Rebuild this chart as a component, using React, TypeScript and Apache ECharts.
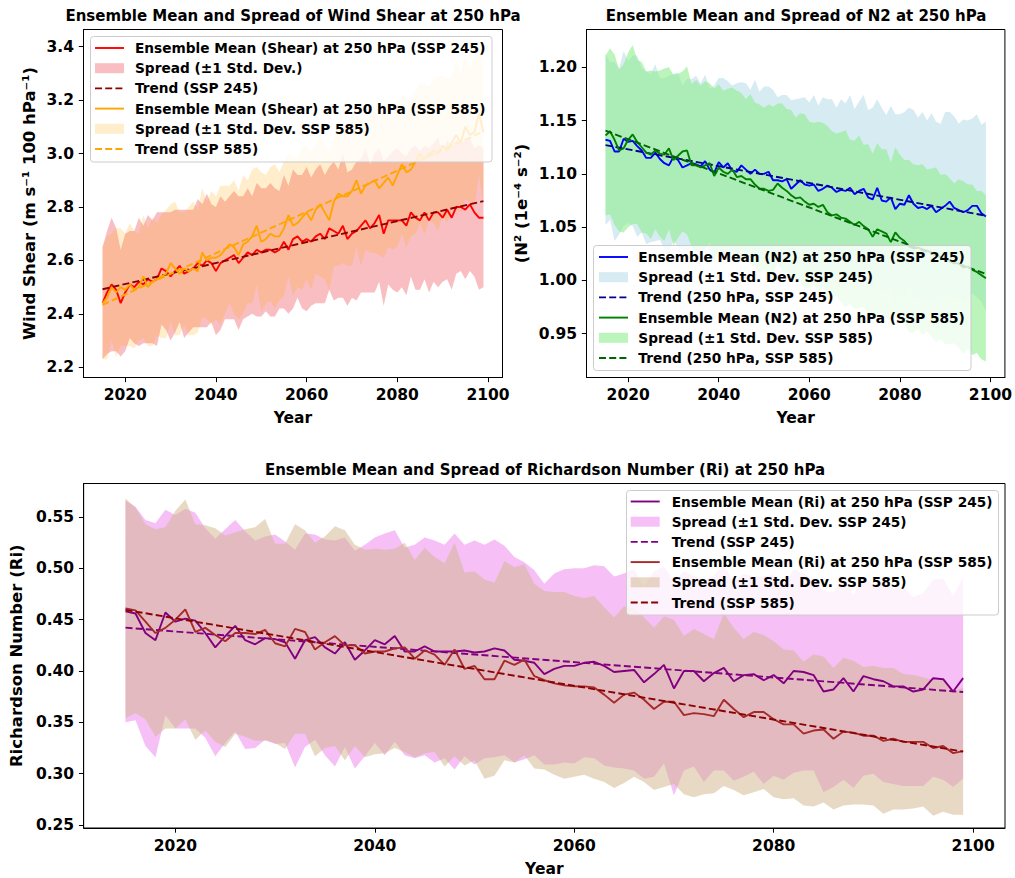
import React, { useEffect, useRef } from "react";
import * as echarts from "echarts";

// ---------------- DATA ----------------
const years: number[] = Array.from({ length: 85 }, (_, i) => 2015 + i);

const xTicks = [2020, 2040, 2060, 2080, 2100];
const shearTicks = [2.2, 2.4, 2.6, 2.8, 3.0, 3.2, 3.4];
const n2Ticks = [0.95, 1.0, 1.05, 1.1, 1.15, 1.2];
const riTicks = [0.25, 0.3, 0.35, 0.4, 0.45, 0.5, 0.55];

// Wind shear (m s-1 100 hPa-1)
const shearMean245 = [
  2.44, 2.48, 2.51, 2.49, 2.44, 2.48, 2.51, 2.5, 2.52, 2.51,
  2.53, 2.52, 2.53, 2.57, 2.56, 2.54, 2.56, 2.58, 2.55, 2.56,
  2.57, 2.59, 2.58, 2.6, 2.59, 2.56, 2.59, 2.6, 2.61, 2.62,
  2.59, 2.61, 2.63, 2.62, 2.64, 2.63, 2.64, 2.64, 2.63, 2.64,
  2.67, 2.64, 2.68, 2.69, 2.67, 2.68, 2.67, 2.69, 2.7, 2.68,
  2.72, 2.71, 2.7, 2.73, 2.68, 2.7, 2.71, 2.73, 2.75, 2.72,
  2.74, 2.77, 2.7, 2.75, 2.75, 2.75, 2.75, 2.73, 2.78, 2.76,
  2.75, 2.78, 2.75, 2.78, 2.78, 2.76, 2.79, 2.76, 2.8, 2.8,
  2.79, 2.81, 2.78, 2.76, 2.76,
];
const shearStd245 = [
  0.21, 0.23, 0.25, 0.23, 0.2, 0.22, 0.2, 0.21, 0.24, 0.22,
  0.24, 0.23, 0.25, 0.21, 0.22, 0.24, 0.23, 0.21, 0.24, 0.23,
  0.22, 0.24, 0.23, 0.25, 0.22, 0.24, 0.25, 0.22, 0.23, 0.24,
  0.25, 0.23, 0.24, 0.22, 0.25, 0.24, 0.23, 0.25, 0.24, 0.22,
  0.25, 0.24, 0.26, 0.23, 0.25, 0.27, 0.24, 0.25, 0.26, 0.24,
  0.23, 0.26, 0.24, 0.27, 0.25, 0.24, 0.26, 0.25, 0.27, 0.24,
  0.26, 0.25, 0.27, 0.24, 0.26, 0.27, 0.25, 0.26, 0.24, 0.27,
  0.26, 0.25, 0.27, 0.26, 0.28, 0.24, 0.26, 0.27, 0.25, 0.24,
  0.26, 0.25, 0.24, 0.27, 0.26,
];
const shearTrend245 = [2.492, 2.822];
const shearMean585 = [
  2.44, 2.46, 2.5, 2.48, 2.5, 2.49, 2.51, 2.49, 2.5, 2.54,
  2.5, 2.52, 2.53, 2.54, 2.55, 2.59, 2.57, 2.55, 2.57, 2.56,
  2.57, 2.56, 2.63, 2.6, 2.61, 2.61, 2.62, 2.64, 2.66, 2.65,
  2.62, 2.66, 2.67, 2.69, 2.73, 2.67, 2.68, 2.7, 2.69, 2.69,
  2.72, 2.77, 2.73, 2.74, 2.76, 2.78, 2.75, 2.79, 2.81, 2.78,
  2.75, 2.82, 2.85, 2.84, 2.84, 2.86, 2.9, 2.85, 2.88, 2.89,
  2.9, 2.87, 2.89, 2.91, 2.88, 2.92, 2.96, 2.93, 2.94, 2.97,
  3.0, 2.98, 3.0, 3.01, 3.0, 3.03, 3.01, 3.04, 3.07, 3.04,
  3.1, 3.07, 3.08, 3.15, 3.08,
];
const shearStd585 = [
  0.21, 0.23, 0.2, 0.24, 0.22, 0.21, 0.23, 0.22, 0.2, 0.23,
  0.22, 0.24, 0.21, 0.23, 0.24, 0.22, 0.25, 0.23, 0.21, 0.24,
  0.25, 0.23, 0.24, 0.22, 0.25, 0.23, 0.26, 0.24, 0.22, 0.25,
  0.24, 0.26, 0.23, 0.25, 0.22, 0.26, 0.24, 0.25, 0.27, 0.24,
  0.25, 0.23, 0.26, 0.24, 0.27, 0.25, 0.26, 0.24, 0.27, 0.25,
  0.26, 0.24, 0.27, 0.25, 0.26, 0.28, 0.25, 0.27, 0.24, 0.26,
  0.27, 0.25, 0.28, 0.26, 0.24, 0.27, 0.26, 0.28, 0.25, 0.27,
  0.26, 0.28, 0.25, 0.27, 0.29, 0.26, 0.27, 0.25, 0.28, 0.26,
  0.27, 0.25, 0.28, 0.23, 0.27,
];
const shearTrend585 = [2.434, 3.083];

// N2 (1e-4 s-2)
const n2Mean245 = [
  1.132, 1.131, 1.121, 1.121, 1.133, 1.13, 1.131, 1.126, 1.122, 1.115,
  1.115, 1.12, 1.114, 1.11, 1.108, 1.116, 1.113, 1.106, 1.108, 1.11,
  1.109, 1.107, 1.112, 1.104, 1.101, 1.111, 1.106, 1.11, 1.103, 1.102,
  1.108, 1.104, 1.1, 1.104, 1.1, 1.1, 1.102, 1.094, 1.094, 1.093,
  1.095, 1.086, 1.09, 1.094, 1.09, 1.089, 1.09, 1.084, 1.086, 1.089,
  1.087, 1.083, 1.085, 1.084, 1.087, 1.081, 1.084, 1.086, 1.078, 1.076,
  1.087, 1.075, 1.074, 1.078, 1.067, 1.072, 1.071, 1.08, 1.072, 1.068,
  1.069, 1.067, 1.07, 1.064, 1.067, 1.07, 1.074, 1.068, 1.066, 1.064,
  1.066, 1.07, 1.07, 1.063, 1.06,
];
const n2Std245 = [
  0.08, 0.074, 0.084, 0.078, 0.082, 0.076, 0.08, 0.085, 0.077, 0.081,
  0.079, 0.083, 0.076, 0.08, 0.084, 0.078, 0.082, 0.077, 0.081, 0.079,
  0.083, 0.078, 0.081, 0.076, 0.082, 0.079, 0.084, 0.077, 0.08, 0.083,
  0.078, 0.081, 0.079, 0.084, 0.077, 0.082, 0.08, 0.085, 0.078, 0.081,
  0.079, 0.083, 0.08, 0.077, 0.082, 0.078, 0.084, 0.08, 0.086, 0.081,
  0.083, 0.079, 0.085, 0.082, 0.087, 0.08, 0.084, 0.088, 0.082, 0.086,
  0.083, 0.087, 0.081, 0.086, 0.089, 0.084, 0.087, 0.082, 0.088, 0.085,
  0.089, 0.083, 0.087, 0.085, 0.08, 0.088, 0.084, 0.086, 0.081, 0.087,
  0.084, 0.082, 0.086, 0.083, 0.089,
];
const n2Trend245 = [1.127, 1.0607];
const n2Mean585 = [
  1.136, 1.14, 1.132, 1.122, 1.124, 1.132, 1.137, 1.13, 1.125, 1.12,
  1.118, 1.122, 1.119, 1.118, 1.124, 1.113, 1.117, 1.121, 1.122, 1.108,
  1.108, 1.106, 1.108, 1.11, 1.098, 1.106, 1.102, 1.1, 1.104, 1.097,
  1.098, 1.095, 1.095, 1.09, 1.086, 1.086, 1.084, 1.085, 1.091, 1.087,
  1.084, 1.08, 1.077, 1.078, 1.074, 1.071, 1.072, 1.069, 1.071, 1.064,
  1.061, 1.062, 1.059, 1.058, 1.055, 1.052, 1.055, 1.051, 1.048, 1.041,
  1.048, 1.046, 1.044, 1.036, 1.045, 1.04, 1.037, 1.032, 1.03, 1.031,
  1.029, 1.028, 1.026, 1.024, 1.022, 1.02, 1.018, 1.016, 1.016, 1.012,
  1.013, 1.01, 1.008, 1.005, 1.002,
];
const n2Std585 = [
  0.075, 0.078, 0.08, 0.076, 0.079, 0.082, 0.084, 0.077, 0.08, 0.076,
  0.079, 0.074, 0.078, 0.081, 0.076, 0.08, 0.077, 0.075, 0.079, 0.076,
  0.08, 0.077, 0.079, 0.075, 0.082, 0.078, 0.076, 0.08, 0.077, 0.081,
  0.078, 0.075, 0.08, 0.077, 0.079, 0.076, 0.081, 0.078, 0.075, 0.079,
  0.077, 0.08, 0.076, 0.079, 0.082, 0.078, 0.076, 0.08, 0.077, 0.081,
  0.079, 0.076, 0.08, 0.083, 0.077, 0.079, 0.081, 0.076, 0.08, 0.078,
  0.081, 0.077, 0.079, 0.075, 0.08, 0.078, 0.076, 0.081, 0.079, 0.077,
  0.08, 0.076, 0.079, 0.082, 0.077, 0.08, 0.078, 0.075, 0.079, 0.081,
  0.077, 0.08, 0.076, 0.079, 0.078,
];
const n2Trend585 = [1.1405, 1.006];

// Richardson number
const riMean245 = [
  0.458, 0.456, 0.437, 0.43, 0.457, 0.448, 0.451, 0.449, 0.437, 0.423,
  0.434, 0.444, 0.43, 0.426, 0.432, 0.431, 0.428, 0.412, 0.43, 0.433,
  0.423, 0.417, 0.428, 0.411, 0.42, 0.43, 0.426, 0.434, 0.419, 0.419,
  0.424, 0.419, 0.419, 0.419, 0.42, 0.418, 0.419, 0.422, 0.42, 0.411,
  0.41, 0.408, 0.397, 0.402, 0.405, 0.405, 0.408, 0.409, 0.405, 0.399,
  0.4, 0.401, 0.389, 0.397, 0.406, 0.383, 0.4, 0.4, 0.39, 0.398,
  0.403, 0.39, 0.396, 0.397, 0.391, 0.396, 0.388, 0.4, 0.399, 0.396,
  0.38, 0.382, 0.393, 0.38, 0.395, 0.392, 0.39, 0.385, 0.385, 0.38,
  0.382, 0.393, 0.392, 0.38, 0.393,
];
const riStd245 = [
  0.108, 0.104, 0.11, 0.114, 0.1, 0.104, 0.107, 0.105, 0.102, 0.106,
  0.104, 0.103, 0.106, 0.101, 0.099, 0.102, 0.098, 0.106, 0.104, 0.1,
  0.105, 0.11, 0.102, 0.106, 0.103, 0.1, 0.108, 0.103, 0.101, 0.104,
  0.106, 0.108, 0.104, 0.115, 0.103, 0.109, 0.104, 0.106, 0.102, 0.1,
  0.096, 0.09, 0.088, 0.093, 0.094, 0.095, 0.092, 0.094, 0.097, 0.093,
  0.095, 0.098, 0.094, 0.1, 0.096, 0.104, 0.097, 0.093, 0.098, 0.095,
  0.1, 0.097, 0.099, 0.095, 0.101, 0.098, 0.094, 0.099, 0.096, 0.093,
  0.098, 0.095, 0.099, 0.094, 0.097, 0.092, 0.098, 0.095, 0.097, 0.092,
  0.094, 0.096, 0.098, 0.093, 0.098,
];
const riTrend245 = [0.4422, 0.3795];
const riMean585 = [
  0.461, 0.459, 0.448, 0.437, 0.442, 0.45, 0.46, 0.438, 0.442, 0.435,
  0.429, 0.437, 0.437, 0.436, 0.44, 0.427, 0.424, 0.441, 0.438, 0.421,
  0.428, 0.434, 0.425, 0.425, 0.417, 0.419, 0.419, 0.422, 0.423, 0.412,
  0.42, 0.416, 0.406, 0.421, 0.402, 0.405, 0.392, 0.392, 0.41, 0.406,
  0.411, 0.395, 0.391, 0.388, 0.386, 0.385, 0.385, 0.384, 0.377, 0.369,
  0.377, 0.379, 0.372, 0.363, 0.37, 0.37, 0.357, 0.359, 0.358, 0.356,
  0.372, 0.363, 0.355, 0.36, 0.36, 0.353, 0.348, 0.348, 0.339, 0.342,
  0.343, 0.334, 0.341, 0.34, 0.337, 0.337, 0.332, 0.334, 0.331, 0.331,
  0.331, 0.325, 0.327, 0.32, 0.322,
];
const riStd585 = [
  0.107, 0.1, 0.095, 0.101, 0.098, 0.106, 0.107, 0.105, 0.1, 0.104,
  0.103, 0.098, 0.101, 0.104, 0.108, 0.097, 0.1, 0.102, 0.099, 0.104,
  0.103, 0.107, 0.112, 0.098, 0.101, 0.1, 0.099, 0.097, 0.102, 0.096,
  0.1, 0.095, 0.099, 0.104, 0.094, 0.092, 0.097, 0.094, 0.097, 0.095,
  0.093, 0.09, 0.087, 0.089, 0.091, 0.088, 0.086, 0.089, 0.085, 0.083,
  0.086, 0.082, 0.08, 0.079, 0.083, 0.08, 0.077, 0.082, 0.078, 0.075,
  0.084, 0.079, 0.076, 0.078, 0.075, 0.076, 0.073, 0.072, 0.07, 0.074,
  0.071, 0.069, 0.072, 0.07, 0.067, 0.068, 0.071, 0.069, 0.066, 0.065,
  0.063, 0.066, 0.064, 0.06, 0.062,
];
const riTrend585 = [0.4595, 0.3215];

// Texts
const titles = [
  "Ensemble Mean and Spread of Wind Shear at 250 hPa",
  "Ensemble Mean and Spread of N2 at 250 hPa",
  "Ensemble Mean and Spread of Richardson Number (Ri) at 250 hPa",
];
const yNames = ["Wind Shear (m s\u207B\u00B9 100 hPa\u207B\u00B9)", "(N\u00B2 (1e\u207B\u2074 s\u207B\u00B2)", "Richardson Number (Ri)"];
const shearLabels = [
  "Ensemble Mean (Shear) at 250 hPa (SSP 245)",
  "Spread (\u00B11 Std. Dev.)",
  "Trend (SSP 245)",
  "Ensemble Mean (Shear) at 250 hPa (SSP 585)",
  "Spread (\u00B11 Std. Dev. SSP 585)",
  "Trend (SSP 585)",
];
const n2Labels = [
  "Ensemble Mean (N2) at 250 hPa (SSP 245)",
  "Spread (\u00B11 Std. Dev. SSP 245)",
  "Trend (250 hPa, SSP 245)",
  "Ensemble Mean (N2) at 250 hPa (SSP 585)",
  "Spread (\u00B11 Std. Dev. SSP 585)",
  "Trend (250 hPa, SSP 585)",
];
const riLabels = [
  "Ensemble Mean (Ri) at 250 hPa (SSP 245)",
  "Spread (\u00B11 Std. Dev. SSP 245)",
  "Trend (SSP 245)",
  "Ensemble Mean (Ri) at 250 hPa (SSP 585)",
  "Spread (\u00B11 Std. Dev. SSP 585)",
  "Trend (SSP 585)",
];

// ---------------- STYLE / BUILD ----------------
const FONT = "DejaVu Sans";
const LW = 1.9;
const DASH = [7, 3.2];

const pairs = (vals: number[]) => years.map((y, i) => [y, vals[i]]);
const trendPairs = (t: number[]) => [[years[0], t[0]], [years[years.length - 1], t[1]]];

function band(name: string, mean: number[], std: number[], fill: string, gi: number) {
  return {
    type: "custom",
    name,
    xAxisIndex: gi,
    yAxisIndex: gi,
    coordinateSystem: "cartesian2d",
    z: 1,
    silent: true,
    data: [[years[0], mean[0]]],
    itemStyle: { color: fill },
    renderItem: (_p: any, api: any) => {
      const up = years.map((y, i) => api.coord([y, mean[i] + std[i]]));
      const lo = years.map((y, i) => api.coord([y, mean[i] - std[i]])).reverse();
      return { type: "polygon", shape: { points: up.concat(lo) }, style: { fill, stroke: "none" } };
    },
  };
}

function line(name: string, data: number[][], color: string, gi: number, dashed: boolean) {
  return {
    type: "line",
    name,
    xAxisIndex: gi,
    yAxisIndex: gi,
    z: 3,
    silent: true,
    symbol: "none",
    data,
    lineStyle: { color, width: LW, type: dashed ? DASH : "solid" },
    itemStyle: { color },
  };
}

const tickLabelStyle = { fontFamily: FONT, fontWeight: "bold", fontSize: 15.5, color: "#000" };

function xAxis(gi: number, gap: number) {
  return {
    type: "value",
    gridIndex: gi,
    min: 2010.8,
    max: 2103.2,
    name: "Year",
    nameLocation: "middle",
    nameGap: gap,
    nameTextStyle: { fontFamily: FONT, fontWeight: "bold", fontSize: 15.5, color: "#000" },
    axisLine: { show: true, onZero: false, lineStyle: { color: "#000", width: 1 } },
    axisTick: { show: true, length: 4.7, lineStyle: { color: "#000", width: 1 }, customValues: xTicks },
    axisLabel: { ...tickLabelStyle, margin: 9.5, customValues: xTicks, formatter: (v: number) => String(Math.round(v)) },
    splitLine: { show: false },
  };
}

function yAxis(gi: number, min: number, max: number, ticks: number[], dec: number, name: string, gap: number, nameSize: number) {
  return {
    type: "value",
    gridIndex: gi,
    min,
    max,
    name,
    nameLocation: "middle",
    nameGap: gap,
    nameTextStyle: { fontFamily: FONT, fontWeight: "bold", fontSize: nameSize, color: "#000" },
    axisLine: { show: true, onZero: false, lineStyle: { color: "#000", width: 1 } },
    axisTick: { show: true, length: 4.7, lineStyle: { color: "#000", width: 1 }, customValues: ticks },
    axisLabel: { ...tickLabelStyle, margin: 9.5, customValues: ticks, formatter: (v: number) => v.toFixed(dec) },
    splitLine: { show: false },
  };
}

type Entry = { label: string; kind: "line" | "dash" | "patch"; color: string };

const LZ = 100;

function legendGroup(x: number, y: number, w: number, h: number, entries: Entry[], row0: number, pitch: number, hx: number, tx: number) {
  const children: any[] = [
    {
      type: "rect",
      z: LZ,
      shape: { x: 0, y: 0, width: w, height: h, r: 3 },
      style: { fill: "rgba(255,255,255,0.8)", stroke: "#cccccc", lineWidth: 1 },
    },
  ];
  entries.forEach((e, i) => {
    const cy = row0 + i * pitch;
    if (e.kind === "patch") {
      children.push({ type: "rect", z: LZ + 1, shape: { x: hx, y: cy - 5, width: 29, height: 10 }, style: { fill: e.color } });
    } else {
      children.push({
        type: "line",
        z: LZ + 1,
        shape: { x1: hx, y1: cy, x2: hx + 29, y2: cy },
        style: { stroke: e.color, lineWidth: LW, lineDash: e.kind === "dash" ? DASH : null },
      });
    }
    children.push({
      type: "text",
      z: LZ + 1,
      x: tx,
      y: cy,
      style: { text: e.label, fill: "#000", font: `bold 13.7px "${FONT}"`, verticalAlign: "middle", align: "left" },
    });
  });
  return { type: "group", x, y, z: LZ, silent: true, children };
}

const C = {
  red: "#ff0000",
  redBand: "rgba(235,40,50,0.3)",
  darkred: "#8b0000",
  orange: "#ffa500",
  orangeBand: "rgba(255,165,0,0.2)",
  blue: "#0000ff",
  blueBand: "rgba(173,216,230,0.5)",
  navy: "#00008b",
  green: "#008000",
  greenBand: "rgba(144,238,144,0.6)",
  darkgreen: "#006400",
  purple: "#800080",
  violetBand: "rgba(238,130,238,0.5)",
  brown: "#a52a2a",
  tanBand: "rgba(210,180,140,0.5)",
};

function buildOption() {
  const grids = [
    { left: 83.5, top: 29.5, width: 419, height: 348 },
    { left: 586.5, top: 29.5, width: 419, height: 348 },
    { left: 83.5, top: 483.5, width: 921.5, height: 347.5 },
  ].map((g) => ({ ...g, show: true, borderColor: "#000", borderWidth: 1, backgroundColor: "transparent" }));

  const series: any[] = [
    band(shearLabels[1], shearMean245, shearStd245, C.redBand, 0),
    band(shearLabels[4], shearMean585, shearStd585, C.orangeBand, 0),
    line(shearLabels[0], pairs(shearMean245), C.red, 0, false),
    line(shearLabels[2], trendPairs(shearTrend245), C.darkred, 0, true),
    line(shearLabels[3], pairs(shearMean585), C.orange, 0, false),
    line(shearLabels[5], trendPairs(shearTrend585), C.orange, 0, true),

    band(n2Labels[1], n2Mean245, n2Std245, C.blueBand, 1),
    band(n2Labels[4], n2Mean585, n2Std585, C.greenBand, 1),
    line(n2Labels[0], pairs(n2Mean245), C.blue, 1, false),
    line(n2Labels[2], trendPairs(n2Trend245), C.navy, 1, true),
    line(n2Labels[3], pairs(n2Mean585), C.green, 1, false),
    line(n2Labels[5], trendPairs(n2Trend585), C.darkgreen, 1, true),

    band(riLabels[1] + " ", riMean245, riStd245, C.violetBand, 2),
    band(riLabels[4] + " ", riMean585, riStd585, C.tanBand, 2),
    line(riLabels[0], pairs(riMean245), C.purple, 2, false),
    line(riLabels[2] + " ", trendPairs(riTrend245), C.purple, 2, true),
    line(riLabels[3], pairs(riMean585), C.brown, 2, false),
    line(riLabels[5] + " ", trendPairs(riTrend585), C.darkred, 2, true),
  ];

  const e1: Entry[] = [
    { label: shearLabels[0], kind: "line", color: C.red },
    { label: shearLabels[1], kind: "patch", color: C.redBand },
    { label: shearLabels[2], kind: "dash", color: C.darkred },
    { label: shearLabels[3], kind: "line", color: C.orange },
    { label: shearLabels[4], kind: "patch", color: C.orangeBand },
    { label: shearLabels[5], kind: "dash", color: C.orange },
  ];
  const e2: Entry[] = [
    { label: n2Labels[0], kind: "line", color: C.blue },
    { label: n2Labels[1], kind: "patch", color: C.blueBand },
    { label: n2Labels[2], kind: "dash", color: C.navy },
    { label: n2Labels[3], kind: "line", color: C.green },
    { label: n2Labels[4], kind: "patch", color: C.greenBand },
    { label: n2Labels[5], kind: "dash", color: C.darkgreen },
  ];
  const e3: Entry[] = [
    { label: riLabels[0], kind: "line", color: C.purple },
    { label: riLabels[1], kind: "patch", color: C.violetBand },
    { label: riLabels[2], kind: "dash", color: C.purple },
    { label: riLabels[3], kind: "line", color: C.brown },
    { label: riLabels[4], kind: "patch", color: C.tanBand },
    { label: riLabels[5], kind: "dash", color: C.darkred },
  ];

  const titleStyle = { fontFamily: FONT, fontWeight: "bold", fontSize: 15, color: "#000", lineHeight: 15 };

  return {
    animation: false,
    backgroundColor: "#ffffff",
    textStyle: { fontFamily: FONT },
    title: [
      { text: titles[0], left: 293, top: 8.5, textAlign: "center", padding: 0, textStyle: titleStyle },
      { text: titles[1], left: 796, top: 8.5, textAlign: "center", padding: 0, textStyle: titleStyle },
      { text: titles[2], left: 545, top: 462.5, textAlign: "center", padding: 0, textStyle: titleStyle },
    ],
    grid: grids,
    xAxis: [xAxis(0, 32), xAxis(1, 32), xAxis(2, 33)],
    yAxis: [
      yAxis(0, 2.1618, 3.4644, shearTicks, 1, yNames[0], 46, 16.5),
      yAxis(1, 0.9089, 1.2355, n2Ticks, 2, yNames[1], 57, 16.5),
      yAxis(2, 0.2471, 0.5826, riTicks, 2, yNames[2], 57, 16.5),
    ],
    series,
    graphic: {
      elements: [
        legendGroup(90.5, 36.5, 401.5, 125.5, e1, 11.5, 20.2, 4.5, 44.5),
        legendGroup(593.5, 245.5, 377.5, 125, e2, 11.5, 20.2, 5.5, 44.8),
        legendGroup(626.5, 490.5, 372, 124.5, e3, 11, 20.2, 4.2, 45.2),
      ],
    },
  };
}

export default function App() {
  const ref = useRef<HTMLDivElement>(null);
  useEffect(() => {
    if (!ref.current) return;
    const chart = echarts.init(ref.current, null, { renderer: "svg" });
    chart.setOption(buildOption() as any);
    return () => chart.dispose();
  }, []);
  return (
    <div
      ref={ref}
      style={{ position: "absolute", left: 0, top: 0, width: 1015, height: 878, background: "#ffffff" }}
    />
  );
}
